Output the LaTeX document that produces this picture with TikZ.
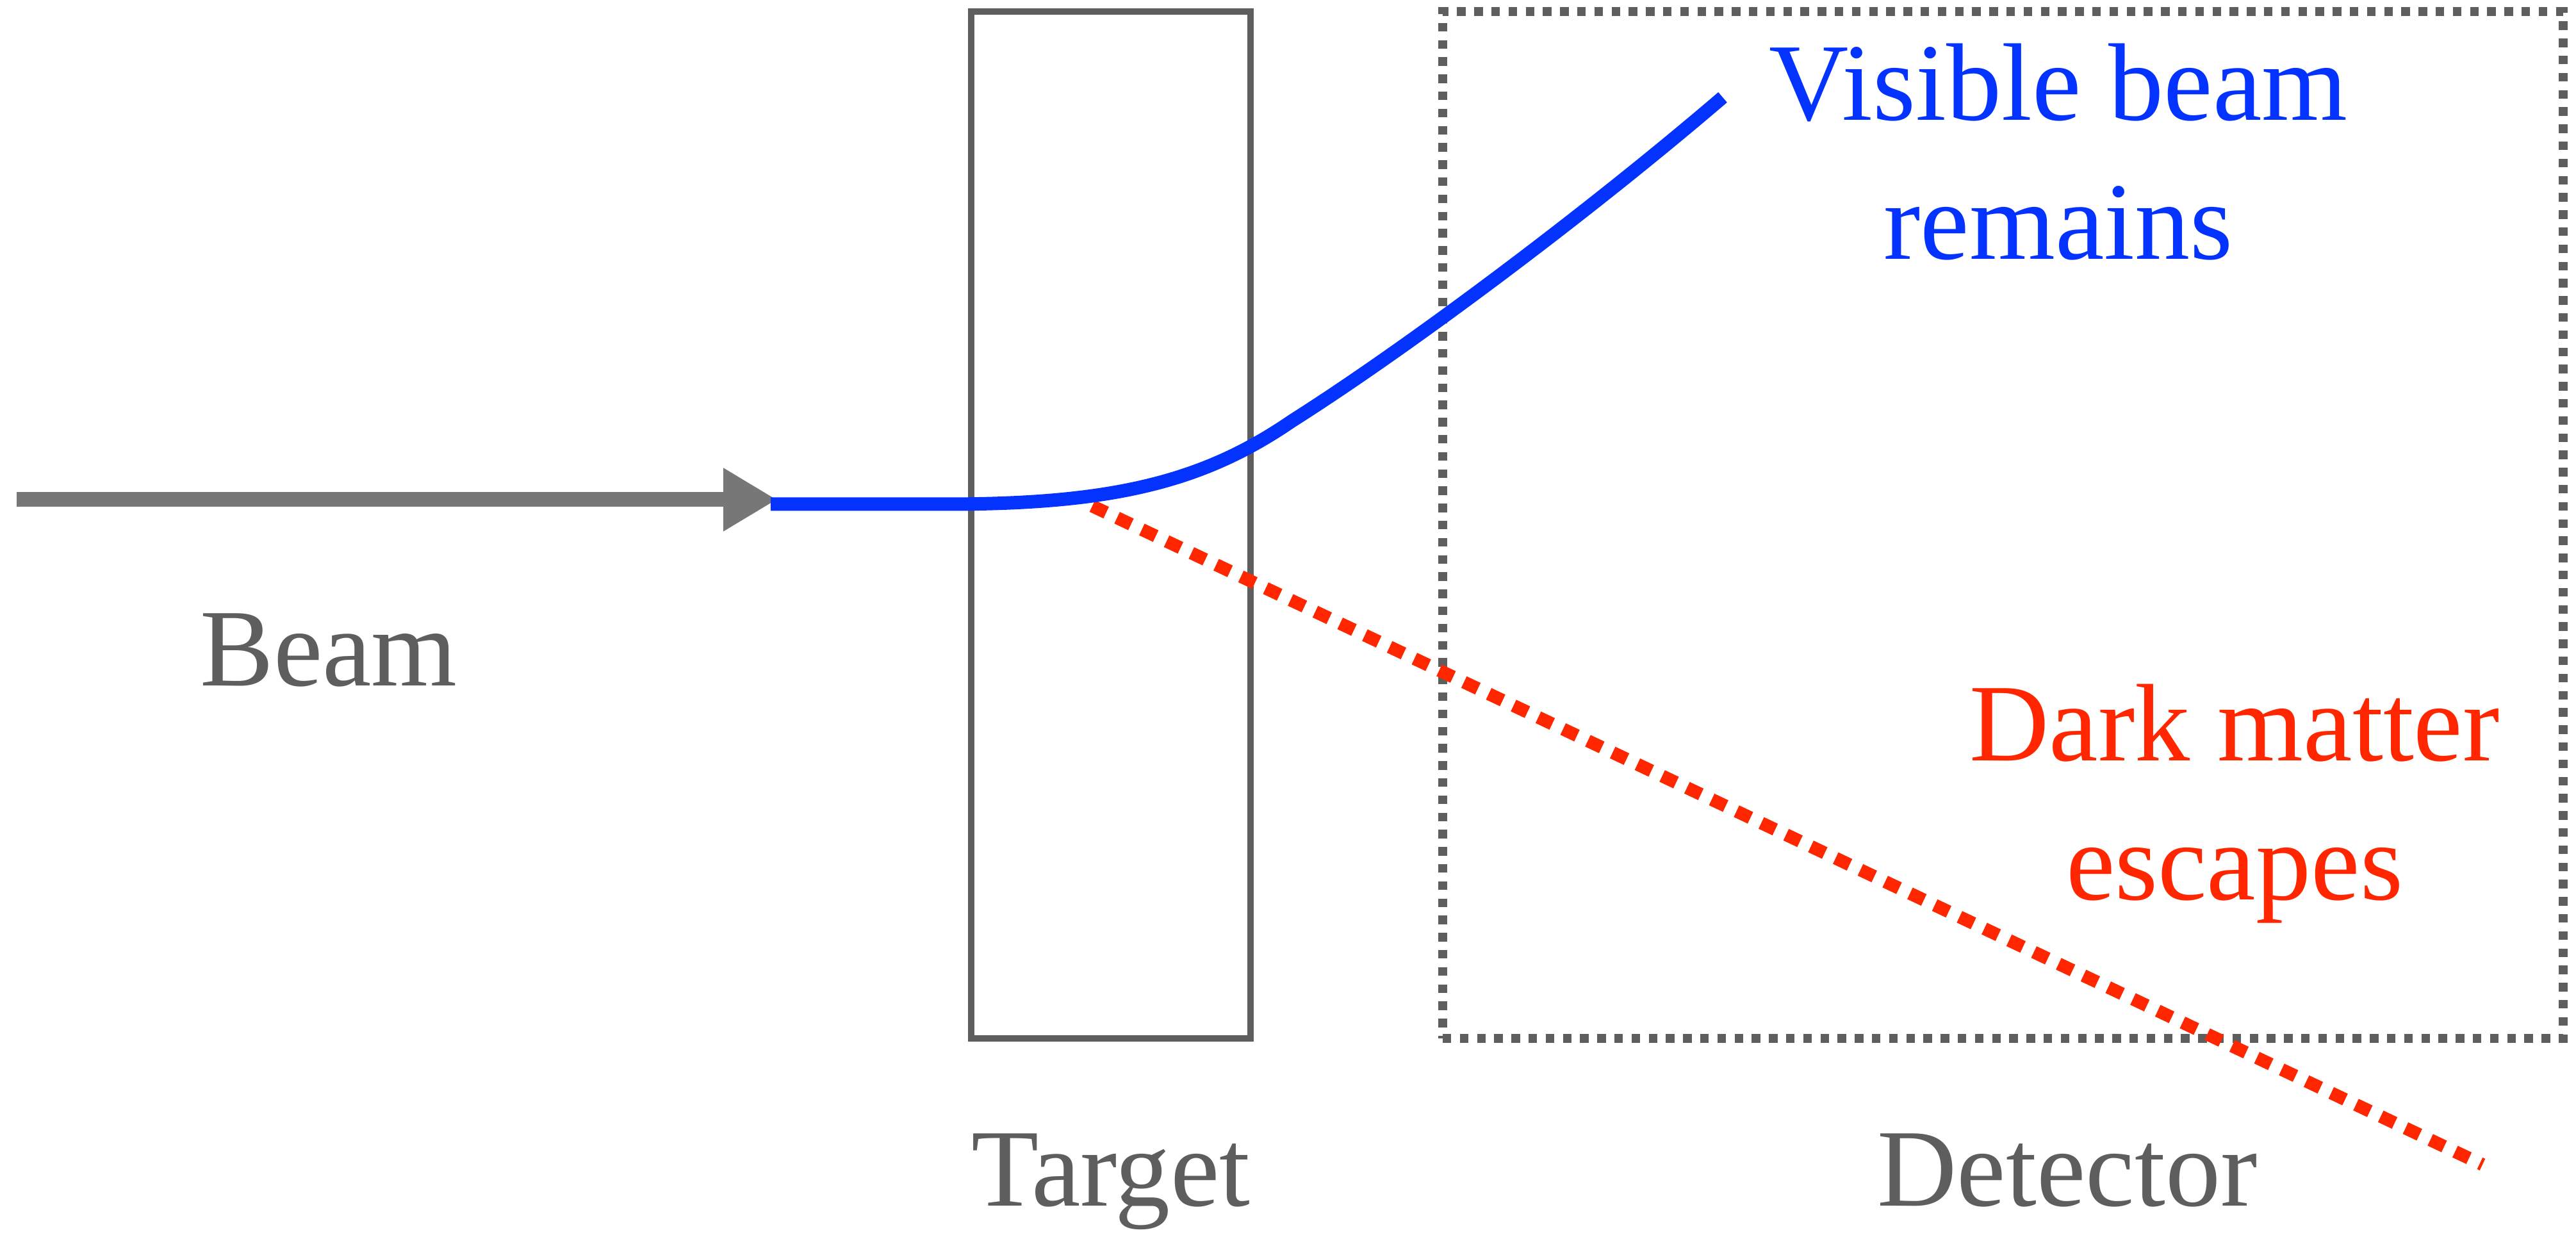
\documentclass[tikz,border=0pt]{standalone}
\usepackage{fontspec}
\setmainfont{Liberation Serif}
\usetikzlibrary{arrows.meta}
\definecolor{boxgray}{HTML}{5E5E5E}
\definecolor{arrowgray}{HTML}{777777}
\definecolor{beamblue}{HTML}{0433FF}
\definecolor{dmred}{HTML}{FF2600}
\tikzset{
  lbl/.style={font=\fontsize{24.5}{31}\selectfont, align=center, inner sep=0pt, anchor=base},
  tgtbox/.style={draw=boxgray, line width=0.05cm, minimum width=2.18cm,
                 minimum height=8.015cm, inner sep=0pt},
  detbox/.style={draw=boxgray, line width=0.067cm, dash pattern=on 0.067cm off 0.067cm,
                 minimum width=8.745cm, minimum height=8.015cm, inner sep=0pt},
  incoming/.style={draw=arrowgray, line width=0.115cm, -{Triangle[length=0.42cm, width=0.465cm]}},
  visible/.style={draw=beamblue, line width=0.105cm},
  dark/.style={draw=dmred, line width=0.1cm, dash pattern=on 0.12cm off 0.094cm},
}

\begin{document}
\begin{tikzpicture}
    \useasboundingbox (0,0) rectangle (20.105,9.655);
    \node[tgtbox] (target) at (8.67,5.5575) {};
    \node[detbox] (detector) at (15.6325,5.5575) {};
    % incoming beam
    \coordinate (src) at (0.13,5.755);
    \coordinate (hit) at (6.065,5.755);
    \draw[incoming] (src) -- (hit);
    % dark matter leaves the target
    \coordinate (dmstart) at (8.525,5.705);
    \coordinate (dmend) at (19.375,0.565);
    \draw[dark] (dmstart) -- (dmend);
    % deflected visible beam
    \coordinate (bstart) at (6.015,5.72);
    \coordinate (bkink) at (10.085,6.37);
    \coordinate (bend) at (13.445,8.895);
    \draw[visible] (bstart) -- (7.4,5.72) .. controls (8.7,5.72) and (9.4,5.9) .. (bkink)
        .. controls (11.0,6.95) and (12.4,8.0) .. (bend);
    % labels (base = last line)
    \node[lbl, text=boxgray] (beamlbl) at (2.565,4.3) {Beam};
    \node[lbl, text=boxgray] (tgtlbl) at (8.67,0.24) {Target};
    \node[lbl, text=boxgray] (detlbl) at (16.135,0.24) {Detector};
    \node[lbl, text=beamblue] (vislbl) at (16.065,7.63) {Visible beam\\remains};
    \node[lbl, text=dmred] (dmlbl) at (17.44,2.63) {Dark matter\\escapes};
\end{tikzpicture}
\end{document}
